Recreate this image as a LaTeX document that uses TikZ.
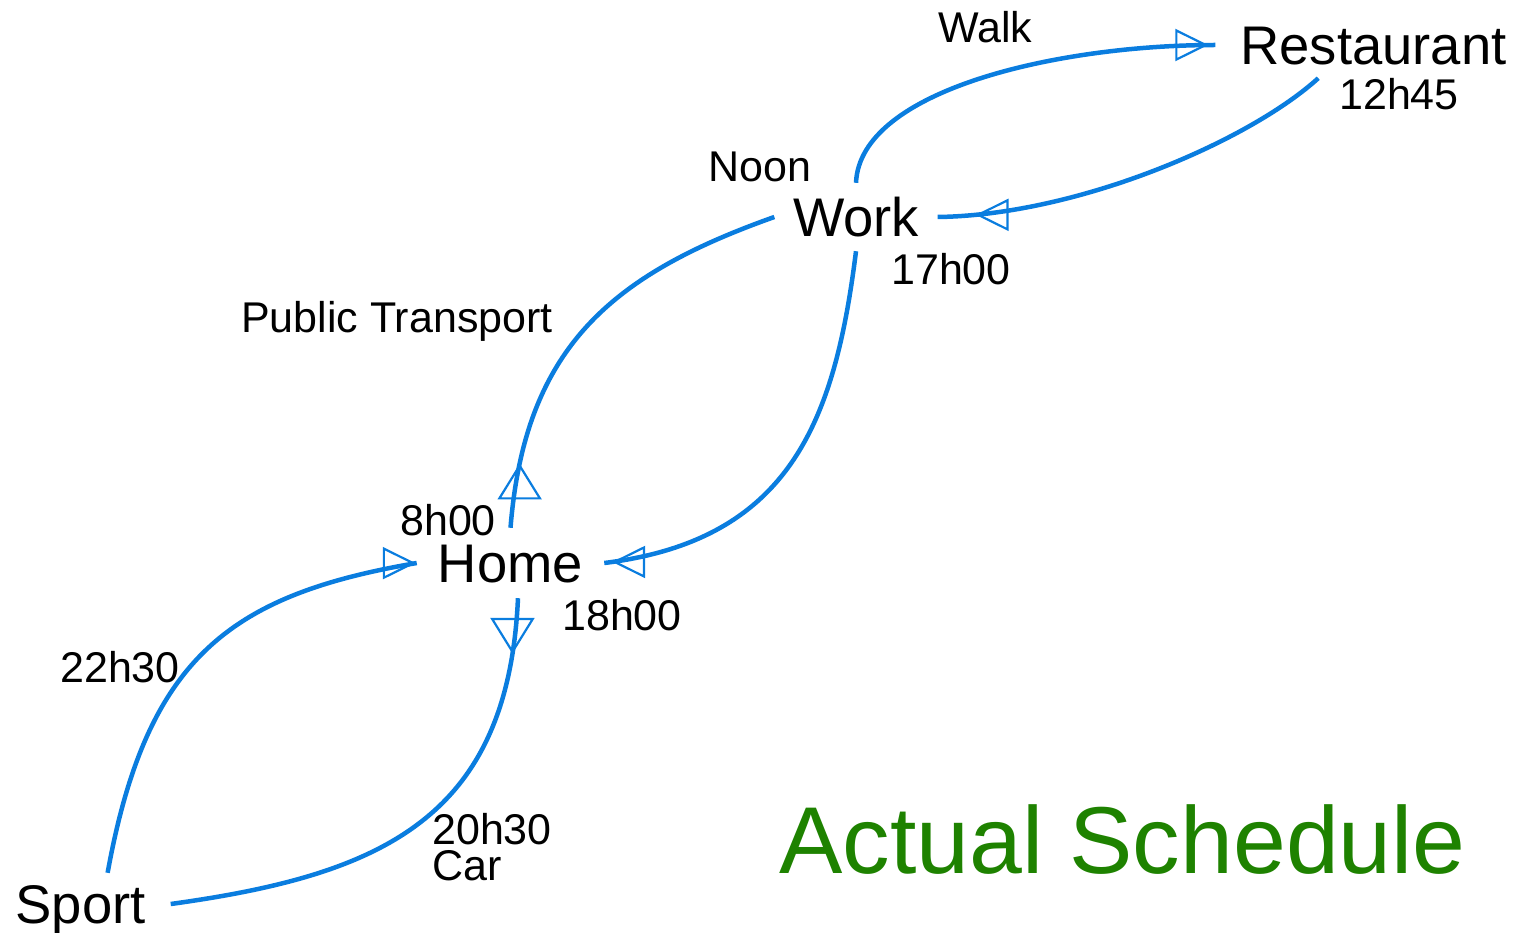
\documentclass[tikz,border=0pt]{standalone}
\usepackage{fontspec}
\setmainfont{Liberation Sans}
\usetikzlibrary{arrows.meta,decorations.markings}
\definecolor{lineblue}{RGB}{10,125,223}
\definecolor{titlegreen}{RGB}{30,130,0}
\begin{document}
\begin{tikzpicture}[x=1pt,y=-1pt,
  big/.style={font=\fontsize{54.4}{60}\selectfont, text height=39pt, text depth=0pt},
  lbl/.style={font=\fontsize{43}{48}\selectfont, inner sep=0pt, anchor=base west},
  conn/.style={draw=lineblue, line width=4.5pt},
  vtip/.tip={Triangle[open,length=36pt,width=44pt,line width=2.2pt]},
  htip/.tip={Triangle[open,length=33pt,width=32pt,line width=2.2pt]},
  mk/.style n args={3}{postaction={decorate},
    decoration={markings, mark=at position #1 with
      {\pgftransformresetnontranslations\pgftransformrotate{#3}\arrow[lineblue]{#2}}}}
]
\useasboundingbox (0,0) rectangle (1523,933);

% main places
\node[big, inner xsep=21pt, inner ysep=15.5pt] (home) at (510.5,563) {Home};
\node[big, inner xsep=18.5pt, inner ysep=14.5pt] (work) at (856,217) {Work};
\node[big, inner xsep=25pt, inner ysep=13.5pt] (rest) at (1373.5,45) {Restaurant};
\node[big, inner xsep=25pt, inner ysep=11.5pt] (sport) at (80.5,904) {Sport};

% labels
\node[lbl] (walk)  at (938,43)  {Walk};
\node[lbl] (noon)  at (708,182) {Noon};
\node[lbl] (t1700) at (891,285) {17h00};
\node[lbl] (t1245) at (1339,110) {12h45};
\node[lbl] (pt)    at (241,332) {Public Transport};
\node[lbl] (t0800) at (400,535) {8h00};
\node[lbl] (t1800) at (562,630) {18h00};
\node[lbl] (t2230) at (60,682)  {22h30};
\node[lbl] (t2030) at (432,844) {20h30};
\node[lbl] (car)   at (432,880) {Car};
\node[font=\fontsize{95}{100}\selectfont, text=titlegreen, inner sep=0pt, anchor=base west]
  (title) at (779,873) {Actual Schedule};

% connectors
\draw[conn, mk={65pt}{vtip}{90}] (home.north) .. controls +(14.5,-180) and +(-163.5,58) .. (work.west);
\draw[conn, mk={-8pt}{htip}{180}] (work.south) .. controls +(-21,168) and +(187,-23) .. (home.east);
\draw[conn, mk={-7pt}{htip}{0}] (work.north) .. controls +(4,-93) and +(-157,0) .. (rest.west);
\draw[conn, mk={-38pt}{htip}{180}] (rest.-149.3) .. controls +(-68,62) and +(141.5,-2) .. (work.east);
\draw[conn, mk={-1pt}{htip}{0}] (sport.49.5) .. controls +(39,-215) and +(-187,32) .. (home.west);
\draw[conn, mk={56pt}{vtip}{-90}] (home.-78) .. controls +(-10,221) and +(210,-29) .. (sport.east);
\end{tikzpicture}
\end{document}
